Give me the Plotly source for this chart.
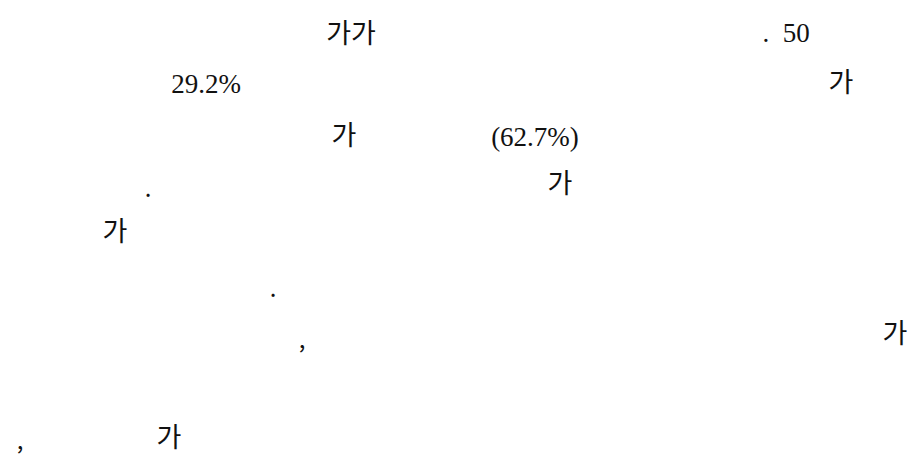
import plotly.graph_objects as go

# Text fragments on the page (x, y in page pixels; y = vertical centre of the line)
korean_texts = ["가가", "가", "가", "가", "가", "가", "가"]
korean_x = [351, 841, 344, 560, 115, 895, 169]
korean_y = [36, 85, 138, 186, 234, 336, 440]

serif_texts = [".\u00a0\u00a050", "29.2%", "(62.7%)"]
serif_x = [786, 206, 535]
serif_y = [35, 86, 139]

punct_texts = [".", ".", ",", ","]
punct_x = [148, 273, 302, 20]
punct_y = [191, 291, 342, 443]

W, H = 921, 474
BODY_MARGIN = 8  # default page margin of the HTML body

fig = go.Figure()
fig.add_trace(go.Scatter(
    x=korean_x, y=korean_y, text=korean_texts, mode="text",
    textposition="middle center", cliponaxis=False,
    textfont=dict(family="Noto Sans CJK KR", size=27, color="#111111"),
    hoverinfo="skip", showlegend=False))
fig.add_trace(go.Scatter(
    x=serif_x, y=serif_y, text=serif_texts, mode="text",
    textposition="middle center", cliponaxis=False,
    textfont=dict(family="Liberation Serif", size=27, color="#111111"),
    hoverinfo="skip", showlegend=False))
fig.add_trace(go.Scatter(
    x=punct_x, y=punct_y, text=punct_texts, mode="text",
    textposition="middle center", cliponaxis=False,
    textfont=dict(family="Noto Sans CJK KR", size=24, color="#111111"),
    hoverinfo="skip", showlegend=False))

fig.update_xaxes(range=[BODY_MARGIN, W], visible=False, fixedrange=True)
fig.update_yaxes(range=[H, BODY_MARGIN], visible=False, fixedrange=True)
fig.update_layout(
    width=W - BODY_MARGIN, height=H - BODY_MARGIN,
    margin=dict(l=0, r=0, t=0, b=0),
    paper_bgcolor="white", plot_bgcolor="white",
)
fig.write_html("out.html", config={"displayModeBar": False})
